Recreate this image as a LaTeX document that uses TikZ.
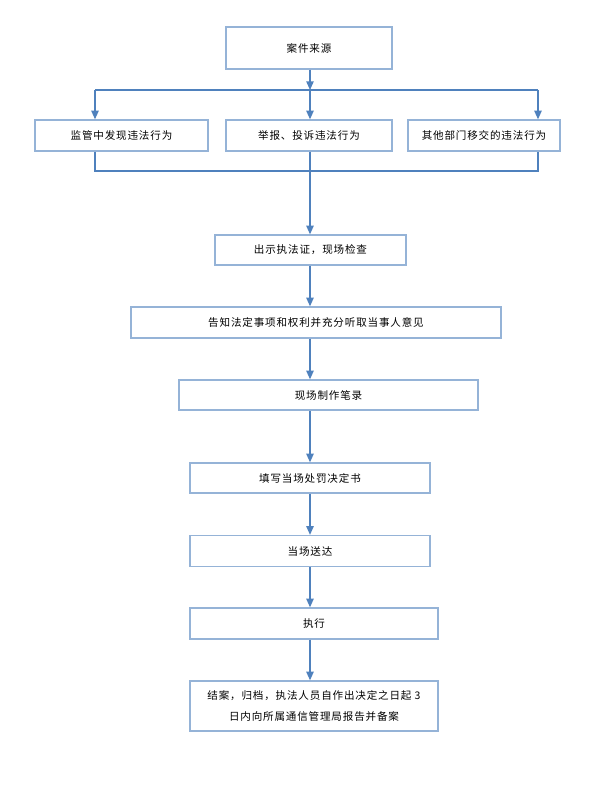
\documentclass[tikz,border=0pt]{standalone}
\usepackage{fontspec}
\newfontfamily\cjk[LetterSpace=8]{Noto Sans CJK SC}
\usetikzlibrary{arrows.meta,positioning,calc}
\definecolor{FlowLine}{HTML}{4F81BD}
\definecolor{FlowEdge}{HTML}{95B3D7}
\definecolor{FlowText}{HTML}{000000}
\tikzset{
  flowbox/.style={draw=FlowEdge, fill=white, line width=1.1pt, align=center,
                  inner sep=0pt, font=\fontsize{9}{18.5}\selectfont\cjk\color{FlowText}},
  arrow/.style={-{Triangle[length=2.6mm,width=2.2mm]}, line width=1.2pt, FlowLine},
  link/.style={line width=1.2pt, FlowLine},
}
\begin{document}
\begin{tikzpicture}[x=0.03cm, y=-0.03cm]
  \useasboundingbox (0,0) rectangle (590,801);

  % case source and three branches
  \node[flowbox, minimum width=4.98cm, minimum height=1.26cm] (src) at (309,48) {案件来源};
  \node[flowbox, minimum width=5.19cm, minimum height=0.93cm] (supv) at (121.5,135.5) {监管中发现违法行为};
  \node[flowbox, minimum width=4.98cm, minimum height=0.93cm] (report) at (309,135.5) {举报、投诉违法行为};
  \node[flowbox, minimum width=4.56cm, minimum height=0.93cm] (transfer) at (484,135.5) {其他部门移交的违法行为};

  % procedure chain
  \node[flowbox, minimum width=5.73cm, minimum height=0.90cm] (show) at (310.5,250) {出示执法证，现场检查};
  \node[flowbox, minimum width=11.1cm, minimum height=0.93cm] (notify) at (316,322.5) {告知法定事项和权利并充分听取当事人意见};
  \node[flowbox, minimum width=8.97cm, minimum height=0.90cm] (record) at (328.5,395) {现场制作笔录};
  \node[flowbox, minimum width=7.20cm, minimum height=0.90cm] (decide) at (310,478) {填写当场处罚决定书};
  \node[flowbox, minimum width=7.20cm, minimum height=0.93cm] (deliver) at (310,551) {当场送达};
  \node[flowbox, minimum width=7.44cm, minimum height=0.93cm] (exec) at (314,623.5) {执行};
  \node[flowbox, minimum width=7.44cm, minimum height=1.50cm] (close) at (314,706)
        {结案，归档，执法人员自作出决定之日起 3\\日内向所属通信管理局报告并备案};

  % split and merge points
  \coordinate (spine) at (310,90);
  \coordinate (splitL) at (95,90);
  \coordinate (splitR) at (538,90);
  \coordinate (mergeL) at (95,171);
  \coordinate (mergeR) at (538,171);

  \draw[arrow] (src.south -| spine) -- (spine);
  \draw[link] (splitL) -- (splitR);
  \draw[arrow] (splitL) -- (splitL |- supv.north);
  \draw[arrow] (spine) -- (spine |- report.north);
  \draw[arrow] (splitR) -- (splitR |- transfer.north);

  \draw[link] (supv.south -| mergeL) -- (mergeL) -- (mergeR) -- (transfer.south -| mergeR);
  \draw[arrow] (report.south -| spine) -- (show.north -| spine);

  \draw[arrow] (show.south -| spine) -- (notify.north -| spine);
  \draw[arrow] (notify.south -| spine) -- (record.north -| spine);
  \draw[arrow] (record.south -| spine) -- (decide.north -| spine);
  \draw[arrow] (decide.south -| spine) -- (deliver.north -| spine);
  \draw[arrow] (deliver.south -| spine) -- (exec.north -| spine);
  \draw[arrow] (exec.south -| spine) -- (close.north -| spine);

\end{tikzpicture}
\end{document}
